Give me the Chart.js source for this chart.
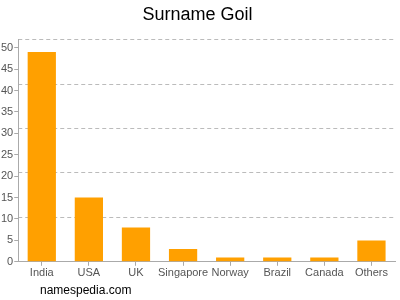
<!DOCTYPE html>
<html><head><meta charset="utf-8">
<script src="https://cdn.jsdelivr.net/npm/chart.js@4/dist/chart.umd.min.js"></script>
<style>
html,body{margin:0;padding:0;background:#fff;}
#wrap{position:relative;width:400px;height:300px;}
#foot{position:absolute;left:40px;top:283px;font:12px "Liberation Sans",Arial,sans-serif;color:#000;}
</style></head>
<body><div id="wrap"><canvas id="c" width="400" height="300"></canvas><div id="foot">namespedia.com</div></div>
<script>
const categories = ["India","USA","UK","Singapore","Norway","Brazil","Canada","Others"];
const counts = [49,15,8,3,1,1,1,5];
const yTicks = [0,5,10,15,20,25,30,35,40,45,50];

new Chart(document.getElementById('c'), {
  type: 'bar',
  data: { labels: categories, datasets: [{ data: counts, backgroundColor: '#ffa000', barPercentage: 0.6, categoryPercentage: 1 }] },
  options: {
    responsive: false, animation: false, devicePixelRatio: 1,
    layout: { padding: { left: 0, right: 5, top: 0, bottom: 19 } },
    plugins: {
      legend: { display: false }, tooltip: { enabled: false },
      title: { display: true, text: 'Surname Goil', color: '#000', font: { family: 'Liberation Sans', size: 18, weight: 'normal' }, padding: { top: 4, bottom: 14 } }
    },
    scales: {
      x: {
        grid: { display: true, offset: false, drawOnChartArea: false, drawTicks: true, tickLength: 4, color: '#aaa' },
        border: { color: '#aaa' },
        ticks: { color: '#555', font: { family: 'Liberation Sans', size: 11 }, padding: 1, maxRotation: 0, autoSkip: false }
      },
      y: {
        min: 0, max: 51.9,
        afterBuildTicks: s => { s.ticks = yTicks.map(v => ({ value: v })); },
        grid: { display: true, drawOnChartArea: false, drawTicks: true, tickLength: 4, color: '#aaa' },
        border: { color: '#aaa' },
        ticks: { color: '#555', font: { family: 'Liberation Sans', size: 11 }, padding: 1 }
      },
      y2: {
        position: 'right', min: 0, max: 5,
        ticks: { display: false, stepSize: 1 },
        border: { display: false, dash: [4, 3] },
        grid: { drawTicks: false, tickLength: 0, color: c => c.tick && c.tick.value === 0 ? 'rgba(0,0,0,0)' : '#bbb' }
      }
    }
  }
});
</script>
</body></html>
